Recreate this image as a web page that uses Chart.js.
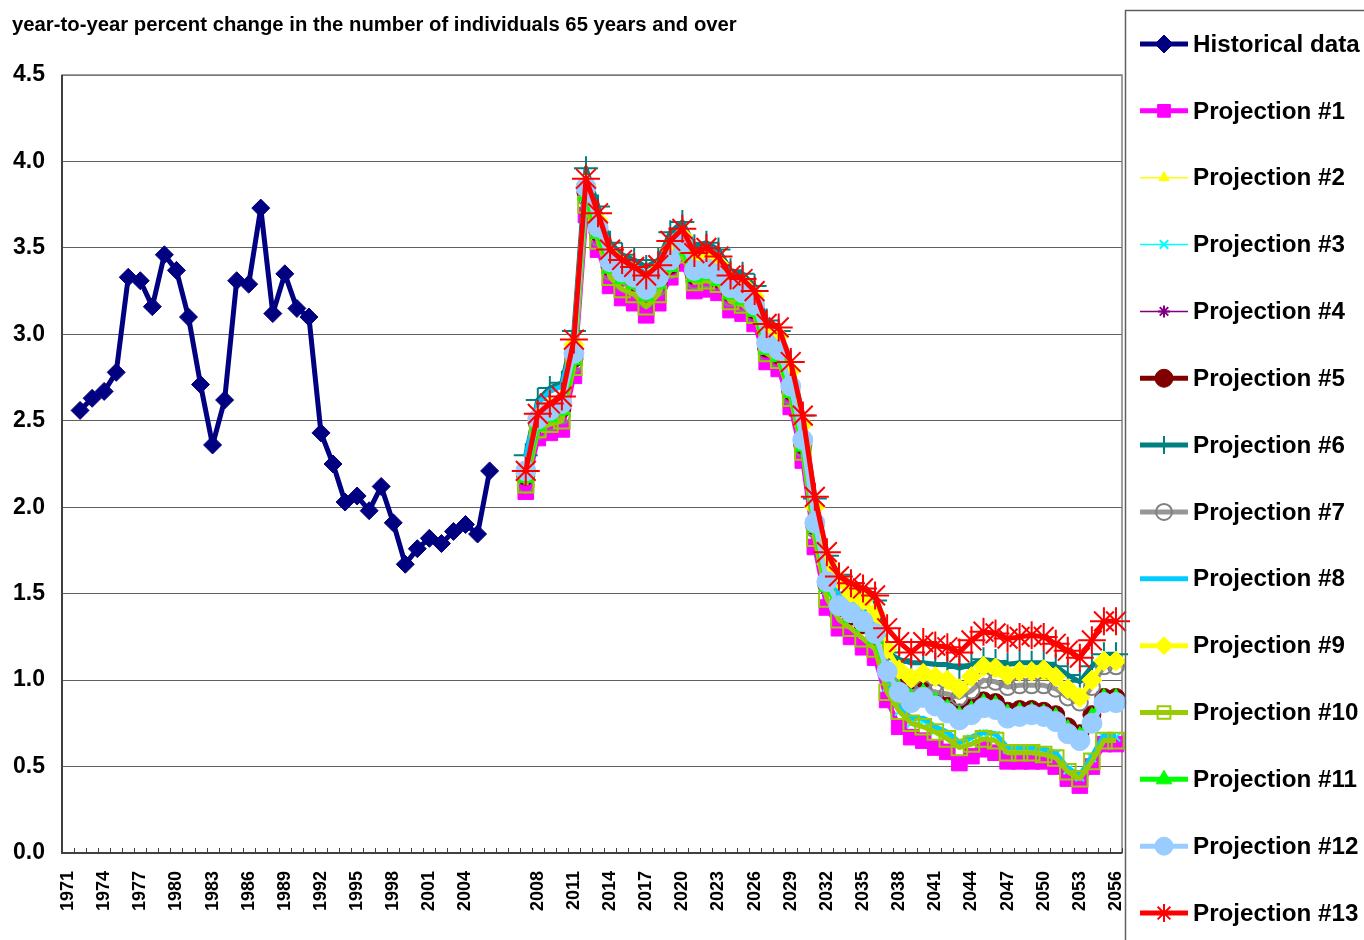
<!DOCTYPE html>
<html>
<head>
<meta charset="utf-8">
<script src="https://cdn.jsdelivr.net/npm/chart.js@4.4.0/dist/chart.umd.min.js"></script>
<style>
  body { margin: 0; background: #fff; }
  #wrap { width: 1364px; height: 940px; }
</style>
</head>
<body>
<div id="wrap"><canvas id="chart" width="1364" height="940"></canvas></div>
<script>
// categories: historical years, two empty slots, projection years
const histYears = ['1971','1972','1973','1974','1975','1976','1977','1978','1979','1980',
  '1981','1982','1983','1984','1985','1986','1987','1988','1989','1990',
  '1991','1992','1993','1994','1995','1996','1997','1998','1999','2000',
  '2001','2002','2003','2004','2005','2006'];
const gapLabels = ['', ''];
const projYears = ['2007','2008','2009','2010','2011','2012','2013','2014','2015','2016',
  '2017','2018','2019','2020','2021','2022','2023','2024','2025','2026',
  '2027','2028','2029','2030','2031','2032','2033','2034','2035','2036',
  '2037','2038','2039','2040','2041','2042','2043','2044','2045','2046',
  '2047','2048','2049','2050','2051','2052','2053','2054','2055','2056'];

const yTicks = [0, 0.5, 1, 1.5, 2, 2.5, 3, 3.5, 4, 4.5];

// historical data 1971..2006 (no value for 1971)
const historical = [null, 2.56, 2.63, 2.67, 2.78, 3.33, 3.31, 3.16, 3.46, 3.37,
  3.10, 2.71, 2.36, 2.62, 3.31, 3.29, 3.73, 3.12, 3.35, 3.15,
  3.10, 2.43, 2.25, 2.03, 2.065, 1.98, 2.12, 1.91, 1.67, 1.76,
  1.82, 1.79, 1.86, 1.90, 1.845, 2.21];

// projections 2007..2056
const proj1 = [2.09, 2.40, 2.43, 2.45, 2.76, 3.69, 3.49, 3.28, 3.21, 3.18, 3.11, 3.18, 3.33, 3.41, 3.25, 3.26, 3.24, 3.14, 3.12, 3.06,
  2.84, 2.80, 2.58, 2.27, 1.77, 1.42, 1.30, 1.25, 1.19, 1.13, 0.885, 0.73, 0.67, 0.65, 0.61, 0.585, 0.52, 0.56, 0.60, 0.58,
  0.53, 0.53, 0.53, 0.53, 0.50, 0.43, 0.39, 0.50, 0.63, 0.63];
const proj2 = [2.18, 2.50, 2.56, 2.60, 2.92, 3.85, 3.64, 3.44, 3.38, 3.34, 3.28, 3.35, 3.47, 3.55, 3.41, 3.43, 3.39, 3.29, 3.27, 3.20,
  2.99, 2.97, 2.77, 2.46, 1.98, 1.65, 1.55, 1.48, 1.44, 1.37, 1.16, 1.04, 0.99, 1.01, 0.99, 0.97, 0.93, 0.99, 1.05, 1.04,
  1.00, 1.02, 1.02, 1.02, 0.99, 0.92, 0.88, 0.98, 1.09, 1.09];
const proj3 = [2.16, 2.46, 2.51, 2.55, 2.84, 3.79, 3.57, 3.37, 3.31, 3.28, 3.21, 3.28, 3.38, 3.48, 3.32, 3.33, 3.30, 3.22, 3.19, 3.12,
  2.90, 2.86, 2.65, 2.34, 1.86, 1.52, 1.40, 1.34, 1.29, 1.22, 0.96, 0.82, 0.75, 0.76, 0.71, 0.68, 0.63, 0.66, 0.69, 0.68,
  0.60, 0.60, 0.60, 0.59, 0.57, 0.48, 0.44, 0.55, 0.67, 0.67];
const proj4 = [2.17, 2.48, 2.53, 2.57, 2.86, 3.81, 3.59, 3.39, 3.33, 3.30, 3.23, 3.30, 3.40, 3.50, 3.34, 3.35, 3.32, 3.24, 3.21, 3.14,
  2.92, 2.88, 2.67, 2.36, 1.89, 1.55, 1.42, 1.37, 1.32, 1.25, 1.04, 0.94, 0.89, 0.92, 0.87, 0.83, 0.79, 0.82, 0.86, 0.85,
  0.80, 0.81, 0.81, 0.80, 0.78, 0.71, 0.67, 0.78, 0.89, 0.89];
const proj5 = [2.18, 2.48, 2.53, 2.57, 2.86, 3.82, 3.59, 3.39, 3.33, 3.30, 3.23, 3.30, 3.40, 3.50, 3.34, 3.35, 3.32, 3.24, 3.21, 3.14,
  2.92, 2.88, 2.67, 2.36, 1.89, 1.55, 1.42, 1.37, 1.32, 1.25, 1.05, 0.96, 0.91, 0.94, 0.89, 0.85, 0.81, 0.84, 0.88, 0.87,
  0.82, 0.83, 0.83, 0.82, 0.80, 0.73, 0.69, 0.80, 0.90, 0.90];
const proj6 = [2.30, 2.62, 2.69, 2.72, 3.02, 3.96, 3.74, 3.53, 3.46, 3.43, 3.39, 3.43, 3.59, 3.65, 3.51, 3.53, 3.49, 3.37, 3.35, 3.28,
  3.08, 3.02, 2.84, 2.53, 2.05, 1.72, 1.61, 1.56, 1.51, 1.46, 1.16, 1.12, 1.10, 1.10, 1.09, 1.09, 1.07, 1.09, 1.12, 1.11,
  1.09, 1.10, 1.10, 1.10, 1.08, 1.03, 0.99, 1.08, 1.15, 1.15];
const proj7 = [2.13, 2.44, 2.49, 2.53, 2.83, 3.79, 3.56, 3.36, 3.30, 3.27, 3.20, 3.27, 3.37, 3.47, 3.31, 3.32, 3.29, 3.21, 3.18, 3.11,
  2.89, 2.85, 2.64, 2.34, 1.87, 1.55, 1.45, 1.40, 1.36, 1.30, 1.10, 0.98, 0.93, 0.95, 0.93, 0.92, 0.90, 0.94, 1.00, 0.99,
  0.96, 0.97, 0.97, 0.97, 0.95, 0.90, 0.87, 0.96, 1.08, 1.08];
const proj8 = [2.29, 2.60, 2.67, 2.70, 2.99, 3.88, 3.70, 3.50, 3.43, 3.40, 3.35, 3.40, 3.55, 3.61, 3.48, 3.50, 3.46, 3.34, 3.32, 3.25,
  3.05, 3.00, 2.80, 2.49, 2.00, 1.64, 1.50, 1.45, 1.40, 1.33, 1.00, 0.85, 0.78, 0.78, 0.73, 0.70, 0.64, 0.67, 0.70, 0.69,
  0.61, 0.61, 0.61, 0.60, 0.58, 0.49, 0.45, 0.56, 0.68, 0.68];
const proj9 = [2.19, 2.52, 2.58, 2.62, 2.94, 3.87, 3.66, 3.46, 3.40, 3.36, 3.30, 3.37, 3.49, 3.57, 3.43, 3.45, 3.41, 3.31, 3.29, 3.22,
  3.01, 2.99, 2.79, 2.48, 2.00, 1.67, 1.58, 1.50, 1.46, 1.39, 1.18, 1.06, 1.01, 1.04, 1.02, 1.00, 0.95, 1.02, 1.08, 1.07,
  1.03, 1.05, 1.05, 1.06, 1.02, 0.95, 0.90, 1.00, 1.11, 1.11];
const proj10 = [2.13, 2.45, 2.48, 2.50, 2.81, 3.75, 3.54, 3.33, 3.26, 3.23, 3.16, 3.23, 3.38, 3.46, 3.30, 3.31, 3.29, 3.19, 3.17, 3.11,
  2.89, 2.85, 2.63, 2.32, 1.82, 1.47, 1.35, 1.30, 1.24, 1.18, 0.93, 0.82, 0.75, 0.73, 0.70, 0.66, 0.61, 0.63, 0.66, 0.65,
  0.58, 0.58, 0.58, 0.57, 0.55, 0.47, 0.43, 0.53, 0.65, 0.65];
const proj11 = [2.17, 2.47, 2.52, 2.56, 2.85, 3.80, 3.58, 3.38, 3.32, 3.29, 3.22, 3.29, 3.39, 3.49, 3.33, 3.34, 3.31, 3.23, 3.20, 3.13,
  2.91, 2.87, 2.66, 2.35, 1.88, 1.54, 1.41, 1.36, 1.31, 1.24, 1.04, 0.95, 0.90, 0.93, 0.88, 0.84, 0.80, 0.83, 0.87, 0.86,
  0.81, 0.82, 0.82, 0.81, 0.79, 0.72, 0.68, 0.79, 0.90, 0.90];
const proj12 = [2.21, 2.51, 2.56, 2.60, 2.89, 3.85, 3.62, 3.42, 3.36, 3.33, 3.26, 3.33, 3.43, 3.53, 3.37, 3.38, 3.35, 3.27, 3.24, 3.17,
  2.95, 2.91, 2.70, 2.39, 1.91, 1.57, 1.43, 1.39, 1.34, 1.27, 1.05, 0.93, 0.87, 0.90, 0.85, 0.81, 0.77, 0.80, 0.84, 0.83,
  0.78, 0.79, 0.80, 0.79, 0.76, 0.69, 0.65, 0.75, 0.87, 0.87];
const proj13 = [2.21, 2.54, 2.60, 2.64, 2.97, 3.90, 3.70, 3.49, 3.43, 3.39, 3.34, 3.40, 3.54, 3.61, 3.47, 3.50, 3.45, 3.34, 3.32, 3.25,
  3.06, 3.04, 2.84, 2.53, 2.06, 1.74, 1.60, 1.56, 1.53, 1.49, 1.30, 1.22, 1.16, 1.22, 1.20, 1.19, 1.16, 1.23, 1.28, 1.27,
  1.24, 1.25, 1.26, 1.25, 1.21, 1.17, 1.13, 1.23, 1.34, 1.34];

const labels = histYears.concat(gapLabels, projYears);
const lead = new Array(histYears.length + gapLabels.length).fill(null);

const series = [
  { label: 'Historical data', data: historical, color: '#000080', width: 5, style: 'rectRot', r: 9, fill: '#000080' },
  { label: 'Projection #1', data: lead.concat(proj1), color: '#FF00FF', width: 5, style: 'rect', r: 11, fill: '#FF00FF' },
  { label: 'Projection #2', data: lead.concat(proj2), color: '#FFFF00', width: 1.5, style: 'triangle', r: 6, fill: '#FFFF00' },
  { label: 'Projection #3', data: lead.concat(proj3), color: '#00FFFF', width: 1.5, style: 'crossRot', r: 6, fill: '#00FFFF' },
  { label: 'Projection #4', data: lead.concat(proj4), color: '#800080', width: 1.5, style: 'star', r: 6, fill: '#800080' },
  { label: 'Projection #5', data: lead.concat(proj5), color: '#800000', width: 5, style: 'circle', r: 9, fill: '#800000' },
  { label: 'Projection #6', data: lead.concat(proj6), color: '#008080', width: 5, style: 'cross', r: 12, fill: '#008080' },
  { label: 'Projection #7', data: lead.concat(proj7), color: '#969696', width: 5, style: 'circle', r: 8, fill: 'rgba(255,255,255,0)', border: '#808080' },
  { label: 'Projection #8', data: lead.concat(proj8), color: '#00CCFF', width: 5, style: false, r: 0, fill: '#00CCFF' },
  { label: 'Projection #9', data: lead.concat(proj9), color: '#FFFF00', width: 5, style: 'rectRot', r: 10, fill: '#FFFF00' },
  { label: 'Projection #10', data: lead.concat(proj10), color: '#99CC00', width: 5, style: 'rect', r: 11, fill: 'rgba(255,255,255,0)' },
  { label: 'Projection #11', data: lead.concat(proj11), color: '#00FF00', width: 5, style: 'triangle', r: 9, fill: '#00FF00' },
  { label: 'Projection #12', data: lead.concat(proj12), color: '#99CCFF', width: 5, style: 'circle', r: 10, fill: '#99CCFF' },
  { label: 'Projection #13', data: lead.concat(proj13), color: '#FF0000', width: 5, style: 'star', r: 14, fill: '#FF0000' }
];

const FONT = 'Liberation Sans, Arial, sans-serif';

const datasets = series.map((s, i) => ({
  label: s.label,
  data: s.data,
  borderColor: s.color,
  borderWidth: s.width,
  borderJoinStyle: 'round',
  backgroundColor: s.fill,
  pointStyle: s.style,
  pointRadius: s.r,
  pointHoverRadius: s.r,
  pointBackgroundColor: s.fill,
  pointBorderColor: s.border || s.color,
  pointBorderWidth: (s.style === 'star' || s.style === 'cross' || s.style === 'crossRot' || s.fill.indexOf('rgba') === 0) ? 2 : 1,
  tension: 0,
  spanGaps: false,
  order: series.length - i
}));

const frame = {
  id: 'frame',
  beforeDatasetsDraw(chart) {
    const { ctx, chartArea: a } = chart;
    ctx.save();
    // plot border
    ctx.strokeStyle = '#808080';
    ctx.lineWidth = 1.5;
    ctx.strokeRect(a.left, a.top, a.right - a.left, a.bottom - a.top);
    // axis lines
    ctx.strokeStyle = '#404040';
    ctx.lineWidth = 2;
    ctx.beginPath();
    ctx.moveTo(a.left, a.top); ctx.lineTo(a.left, a.bottom); ctx.lineTo(a.right, a.bottom);
    ctx.stroke();
    // small inside tick marks between categories
    ctx.lineWidth = 1;
    const n = labels.length;
    const step = (a.right - a.left) / n;
    ctx.beginPath();
    for (let i = 0; i <= n; i++) {
      const x = Math.round(a.left + i * step) + 0.5;
      ctx.moveTo(x, a.bottom); ctx.lineTo(x, a.bottom - 5);
    }
    ctx.stroke();
    ctx.restore();
  },
  afterDraw(chart) {
    const ctx = chart.ctx;
    ctx.save();
    // title
    ctx.fillStyle = '#000';
    ctx.font = 'bold 20.3px ' + FONT;
    ctx.textBaseline = 'alphabetic';
    ctx.textAlign = 'left';
    ctx.fillText('year-to-year percent change in the number of individuals 65 years and over', 12, 31);
    // legend box
    ctx.strokeStyle = '#606060';
    ctx.lineWidth = 1.5;
    ctx.strokeRect(1125.5, 10.5, 400, 1000);
    ctx.font = 'bold 24.2px ' + FONT;
    ctx.textBaseline = 'middle';
    chart.data.datasets.forEach((ds, i) => {
      const y = 44 + i * 66.85;
      ctx.strokeStyle = ds.borderColor;
      ctx.lineWidth = ds.borderWidth;
      ctx.beginPath();
      ctx.moveTo(1140, y); ctx.lineTo(1188, y);
      ctx.stroke();
      if (ds.pointStyle) {
        ctx.fillStyle = ds.pointBackgroundColor;
        ctx.strokeStyle = ds.pointBorderColor;
        ctx.lineWidth = ds.pointBorderWidth;
        Chart.helpers.drawPoint(ctx, { pointStyle: ds.pointStyle, radius: Math.min(ds.pointRadius, 9), rotation: 0, borderWidth: ds.pointBorderWidth }, 1164, y);
      }
      ctx.fillStyle = '#000';
      ctx.fillText(ds.label, 1193, y + 1);
    });
    ctx.restore();
  }
};

new Chart(document.getElementById('chart').getContext('2d'), {
  type: 'line',
  data: { labels: labels, datasets: datasets },
  options: {
    responsive: false,
    animation: false,
    layout: { padding: { top: 75, right: 242, bottom: 0, left: 0 } },
    plugins: { legend: { display: false }, title: { display: false }, tooltip: { enabled: false } },
    scales: {
      x: {
        type: 'category',
        offset: true,
        grid: { display: false, drawTicks: false },
        border: { display: false },
        ticks: {
          autoSkip: false,
          maxRotation: 90,
          minRotation: 90,
          padding: 18,
          color: '#000',
          font: { family: FONT, size: 18, weight: 'bold' },
          callback: (v, i) => (i % 3 === 0 ? labels[i] : '')
        },
        afterFit: s => { s.height = 87; }
      },
      y: {
        min: 0,
        max: 4.5,
        afterBuildTicks: s => { s.ticks = yTicks.map(v => ({ value: v })); },
        grid: { color: '#606060', lineWidth: 1, drawTicks: false },
        border: { display: false },
        ticks: {
          padding: 17,
          color: '#000',
          font: { family: FONT, size: 23, weight: 'bold' },
          callback: v => v.toFixed(1)
        },
        afterFit: s => { s.width = 62; }
      }
    }
  },
  plugins: [frame]
});
</script>
</body>
</html>
